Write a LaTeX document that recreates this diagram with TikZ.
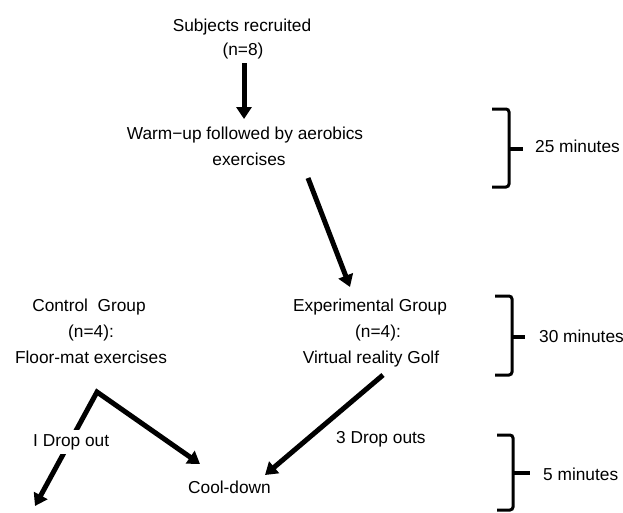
\documentclass[tikz,border=0pt]{standalone}
\usepackage{fontspec}
\setmainfont{Liberation Sans}
\usetikzlibrary{arrows.meta}
\begin{document}
\begin{tikzpicture}[x=1pt,y=-1pt,
  lbl/.style={anchor=base,inner sep=0pt,font=\fontsize{17.3}{21}\selectfont},
  lblw/.style={lbl,anchor=base west},
  arr/.style={line width=5pt,-{Triangle[length=12pt,width=15pt]}},
  bracestyle/.style={line width=3pt,rounded corners=3pt}]
\useasboundingbox (0,0) rectangle (623,512);
% texts
\node[lbl] (subj) at (242,31.5) {Subjects recruited};
\node[lbl] (subjn) at (243,55.5) {(n=8)};
\node[lbl] (warm) at (245,139) {Warm−up followed by aerobics};
\node[lbl] (warm2) at (249,165) {exercises};
\node[lbl] (ctrl) at (89,311.5) {Control\ \ Group};
\node[lbl] (ctrln) at (91,337.5) {(n=4):};
\node[lbl] (ctrl3) at (91,363.5) {Floor-mat exercises};
\node[lbl] (exp) at (370,311.5) {Experimental Group};
\node[lbl] (expn) at (378,337.5) {(n=4):};
\node[lbl] (exp3) at (371,363.5) {Virtual reality Golf};
\node[lbl] (cool) at (229.5,493) {Cool-down};
\node[lblw] (drop3) at (336,443) {3 Drop outs};
\node[lblw] (t25) at (535,152) {25 minutes};
\node[lblw] (t30) at (539,342) {30 minutes};
\node[lblw] (t5) at (543,480) {5 minutes};
% connector end points
\coordinate (a1s) at (244,63);
\coordinate (a1e) at (244,119);
\coordinate (a2s) at (308,178);
\coordinate (a2e) at (350,287);
\coordinate (a3s) at (383,375);
\coordinate (a3e) at (265,475);
\coordinate (apex) at (97,392);
\coordinate (tipL) at (35,506);
\coordinate (tipR) at (200,464);
% arrows
\draw[arr] (a1s) -- (a1e);
\draw[arr] (a2s) -- (a2e);
\draw[arr] (a3s) -- (a3e);
\draw[line width=5pt,miter limit=10,{Triangle[length=12pt,width=15pt]}-{Triangle[length=12pt,width=15pt]}] (tipL) -- (apex) -- (tipR);
\node[lblw,fill=white,inner xsep=1pt,inner ysep=4pt] (drop1) at (32,446) {I Drop out};
% braces
\draw[bracestyle] (492,109) -- (509,109) -- (509,187) -- (492,187);
\draw[line width=3.5pt] (509,149) -- (523,149);
\draw[bracestyle] (495,296) -- (512,296) -- (512,375) -- (495,375);
\draw[line width=3.5pt] (512,337) -- (525,337);
\draw[bracestyle] (497,435) -- (513,435) -- (513,510) -- (497,510);
\draw[line width=3.5pt] (513,473) -- (530,473);
\end{tikzpicture}
\end{document}
